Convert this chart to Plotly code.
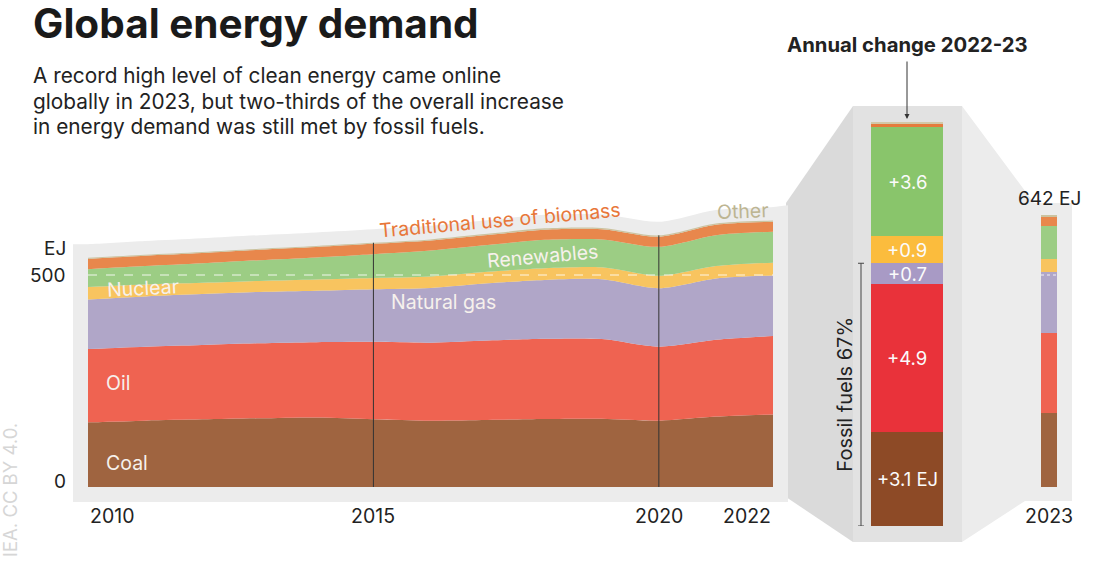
import plotly.graph_objects as go

# ---------------- data ----------------
years = [2010, 2011, 2012, 2013, 2014, 2015, 2016, 2017, 2018, 2019, 2020, 2021, 2022]
coal = [152.5, 156.5, 159.5, 162, 164, 160, 156.5, 158, 160.5, 161, 156.5, 166, 171]
oil = [173, 174.5, 175.5, 177, 177.5, 182.5, 184, 187.5, 189, 188, 174.5, 181, 185]
gas = [117, 118.5, 120, 121, 121.5, 124, 129, 135, 139, 141, 138, 145, 143]
nuclear = [29, 28, 26.5, 26, 26.5, 26.5, 27, 27, 27.5, 28, 29, 29, 30]
renewables = [42, 43.5, 46, 49, 52, 56, 61, 63, 67, 66, 68.5, 73, 73]
biomass = [24.5, 24.5, 24.5, 24.5, 24.5, 24.5, 24, 24, 24, 24, 24, 24.5, 23.5]
other = [2.5, 2.5, 2.5, 2.5, 2.5, 2.5, 2.5, 2.5, 3, 3, 3, 3, 3]

sources = ["Coal", "Oil", "Natural gas", "Nuclear", "Renewables",
           "Traditional use of biomass", "Other"]
change_2023 = [3.1, 4.9, 0.7, 0.9, 3.6, 0.1, 0.07]
change_labels = ["+3.1 EJ", "+4.9", "+0.7", "+0.9", "+3.6", "", ""]
values_2023 = [174.1, 189.9, 143.7, 30.9, 76.6, 23.6, 3.1]
total_2023_label = "642 EJ"
x_ticks = [2010, 2015, 2020, 2022]
y_ticks = [0, 500]
fossil_share_label = "Fossil fuels 67%"

# ---------------- styling ----------------
area_colors = ["#9f6440", "#ef6351", "#b0a6c8", "#f8c45f", "#9ccd84", "#e8874c", "#cbc3a0"]
bar_colors = ["#8d4a26", "#e9323a", "#a89ac5", "#fbbc3d", "#89c56b", "#e47b3c", "#d2c8a8"]
FONT = "Inter"
TXT = "#222222"

W, H = 1100, 574


def px(x):
    return x / W


def py(y):
    return 1 - y / H


PX_PER_YEAR = (773 - 88) / 12
PX_PER_EJ = 0.424
Y0 = 487
CH_PX_PER_EJ = 30.2
CH_Y0 = 526

series = [coal, oil, gas, nuclear, renewables, biomass, other]
n = len(years)
cum = []
run = [0.0] * n
for s in series:
    run = [run[i] + s[i] for i in range(n)]
    cum.append(run)
totals = cum[-1]

fig = go.Figure()

# background panel following the outline of the stack
ext = 15 / PX_PER_YEAR
pad = 32
panel_x = [years[0] - ext] + years + [years[-1] + ext]
panel_top = [totals[0] + pad] + [t + pad for t in totals] + [totals[-1] + pad + 4]
panel_bottom = [-(502 - Y0) / PX_PER_EJ] * len(panel_x)
fig.add_trace(go.Scatter(x=panel_x, y=panel_bottom, mode="lines",
                         line=dict(width=0), hoverinfo="skip", showlegend=False))
fig.add_trace(go.Scatter(x=panel_x, y=panel_top, mode="lines", fill="tonexty",
                         fillcolor="#ececec", line=dict(width=0, shape="spline", smoothing=0.8),
                         hoverinfo="skip", showlegend=False))

# stacked areas
for i, (name, c) in enumerate(zip(sources, area_colors)):
    fig.add_trace(go.Scatter(
        x=years, y=cum[i], mode="lines", name=name,
        fill="tozeroy" if i == 0 else "tonexty", fillcolor=c,
        line=dict(width=0, shape="spline", smoothing=0.8, color=c),
        showlegend=False, hoverinfo="skip"))

# annual change bar
for i, (name, c) in enumerate(zip(sources, bar_colors)):
    fig.add_trace(go.Bar(x=[0], y=[change_2023[i]], marker=dict(color=c, line=dict(width=0)),
                         width=1, xaxis="x2", yaxis="y2", showlegend=False, name=name,
                         hoverinfo="skip"))
# 2023 bar
for i, (name, c) in enumerate(zip(sources, area_colors)):
    fig.add_trace(go.Bar(x=[0], y=[values_2023[i]], marker=dict(color=c, line=dict(width=0)),
                         width=1, xaxis="x3", yaxis="y", showlegend=False, name=name,
                         hoverinfo="skip"))

fig.update_layout(
    width=W, height=H, margin=dict(l=0, r=0, t=0, b=0),
    paper_bgcolor="white", plot_bgcolor="rgba(0,0,0,0)",
    barmode="stack", bargap=0, showlegend=False,
    font=dict(family=FONT, color=TXT),
    xaxis=dict(domain=[px(73), px(788)],
               range=[years[0] - ext, years[-1] + ext], visible=False),
    yaxis=dict(domain=[py(502), py(180)],
               range=[-(502 - Y0) / PX_PER_EJ, (Y0 - 180) / PX_PER_EJ], visible=False),
    xaxis2=dict(domain=[px(871), px(943)], range=[-0.5, 0.5], visible=False, anchor="y2"),
    yaxis2=dict(domain=[py(526), py(106)], range=[0, (526 - 106) / CH_PX_PER_EJ],
                visible=False, anchor="x2"),
    xaxis3=dict(domain=[px(1041), px(1057)], range=[-0.5, 0.5], visible=False, anchor="y"),
)

shapes = []
# connector panels (3D look)
shapes.append(dict(type="path", xref="paper", yref="paper", layer="below",
                   path=f"M {px(786)} {py(203)} L {px(853)} {py(106)} L {px(853)} {py(542)} L {px(786)} {py(497)} Z",
                   fillcolor="#dadada", line=dict(width=0)))
shapes.append(dict(type="rect", xref="paper", yref="paper", layer="below",
                   x0=px(853), x1=px(962), y0=py(542), y1=py(106),
                   fillcolor="#e2e2e2", line=dict(width=0)))
shapes.append(dict(type="path", xref="paper", yref="paper", layer="below",
                   path=(f"M {px(962)} {py(106)} L {px(1034)} {py(203)} L {px(1072)} {py(203)} "
                         f"L {px(1072)} {py(501)} L {px(1025)} {py(501)} L {px(962)} {py(542)} Z"),
                   fillcolor="#ececec", line=dict(width=0)))
# year markers at 2015 and 2020
for yr in [2015, 2020]:
    k = years.index(yr)
    shapes.append(dict(type="line", xref="x", yref="y", x0=yr, x1=yr, y0=0, y1=totals[k],
                       line=dict(color="#333333", width=1), layer="above"))
# 500 EJ dashed guide
shapes.append(dict(type="line", xref="x", yref="y", x0=years[0], x1=years[-1],
                   y0=y_ticks[1], y1=y_ticks[1],
                   line=dict(color="rgba(255,255,255,0.85)", width=1, dash="dash"), layer="above"))
shapes.append(dict(type="line", xref="x3", yref="y", x0=-0.5, x1=0.5,
                   y0=y_ticks[1], y1=y_ticks[1],
                   line=dict(color="rgba(255,255,255,0.85)", width=1, dash="dot"), layer="above"))
# fossil bracket
fossil_top = sum(change_2023[:3])
shapes.append(dict(type="line", xref="paper", yref="y2", x0=px(861), x1=px(861), y0=0, y1=fossil_top,
                   line=dict(color="#444444", width=1)))
for yv in [0, fossil_top]:
    shapes.append(dict(type="line", xref="paper", yref="y2", x0=px(858), x1=px(864), y0=yv, y1=yv,
                       line=dict(color="#444444", width=1)))
fig.update_layout(shapes=shapes)

ann = []
# title & subtitle
ann.append(dict(text="<b>Global energy demand</b>", x=px(31), y=py(23), xref="paper", yref="paper",
                xanchor="left", yanchor="middle", showarrow=False,
                font=dict(size=40.5, color="#1a1a1a", family=FONT)))
sub = ["A record high level of clean energy came online",
       "globally in 2023, but two-thirds of the overall increase",
       "in energy demand was still met by fossil fuels."]
for i, line in enumerate(sub):
    ann.append(dict(text=line, x=px(31), y=py(75 + 26 * i), xref="paper", yref="paper",
                    xanchor="left", yanchor="middle", showarrow=False,
                    font=dict(size=20.8, color=TXT)))
# y axis labels
ann.append(dict(text="EJ", x=px(68), y=py(248), xref="paper", yref="paper", xanchor="right",
                yanchor="middle", showarrow=False, font=dict(size=19, color=TXT)))
for v in y_ticks:
    ann.append(dict(text=str(v), x=px(68), y=v, xref="paper", yref="y", xanchor="right",
                    yanchor="middle", yshift=6 if v == 0 else 0, showarrow=False,
                    font=dict(size=19, color=TXT)))
# x axis labels
for yr in x_ticks:
    anchor = "left" if yr == years[0] else ("right" if yr == years[-1] else "center")
    ann.append(dict(text=str(yr), x=yr, y=py(516), xref="x", yref="paper", xanchor=anchor,
                    yanchor="middle", showarrow=False, font=dict(size=19.5, color=TXT)))
ann.append(dict(text="2023", x=0, y=py(516), xref="x3", yref="paper", xanchor="center",
                yanchor="middle", showarrow=False, font=dict(size=19.5, color=TXT)))
ann.append(dict(text=total_2023_label, x=0, y=py(198), xref="x3", yref="paper", xanchor="center",
                yanchor="middle", showarrow=False, font=dict(size=19, color=TXT)))

# area labels
lab = "#f6f1ec"
ann += [
    dict(text="Coal", x=px(104), y=py(463), xanchor="left", font=dict(size=19.5, color=lab)),
    dict(text="Oil", x=px(104), y=py(383), xanchor="left", font=dict(size=19.5, color=lab)),
    dict(text="Nuclear", x=px(104), y=py(288), xanchor="left", textangle=-3,
         font=dict(size=19.5, color=lab)),
    dict(text="Natural gas", x=px(389), y=py(302), xanchor="left", font=dict(size=19.5, color=lab)),
    dict(text="Renewables", x=px(542), y=py(256), xanchor="center", textangle=-5,
         font=dict(size=19.5, color=lab)),
    dict(text="Traditional use of biomass", x=px(500), y=py(220), xanchor="center", textangle=-5,
         font=dict(size=19.5, color="#e8773a")),
    dict(text="Other", x=px(743), y=py(211), xanchor="center", textangle=-2,
         font=dict(size=19.5, color="#bdb592")),
]
for a in ann[-7:]:
    a.update(xref="paper", yref="paper", yanchor="middle", showarrow=False)

# change bar labels
base = 0
for v, t in zip(change_2023, change_labels):
    if t:
        ann.append(dict(text=t, x=0, y=base + v / 2, xref="x2", yref="y2", xanchor="center",
                        yanchor="middle", showarrow=False, font=dict(size=18.5, color="#fbfbfb")))
    base += v

ann.append(dict(text=fossil_share_label, x=px(845), y=fossil_top / 2, xref="paper", yref="y2",
                textangle=-90, xanchor="center", yanchor="middle", showarrow=False,
                font=dict(size=20, color=TXT)))
ann.append(dict(text="<b>Annual change 2022-23</b>", x=px(907), y=py(44), xref="paper", yref="paper",
                xanchor="center", yanchor="middle", showarrow=False,
                font=dict(size=20.3, color=TXT)))
ann.append(dict(text="", x=px(907), y=py(119), xref="paper", yref="paper", showarrow=True,
                ax=0, ay=-59, arrowhead=2, arrowsize=1, arrowwidth=1, arrowcolor="#333333"))
ann.append(dict(text="IEA. CC BY 4.0.", x=px(10), y=py(421), xref="paper", yref="paper",
                textangle=-90, xanchor="center", yanchor="top", showarrow=False,
                font=dict(size=18.5, color="#d6d6d6")))

fig.update_layout(annotations=ann)
fig.write_html("out.html", config={"displayModeBar": False},
               post_script="document.body.style.margin='0px';document.body.style.padding='0px';")
